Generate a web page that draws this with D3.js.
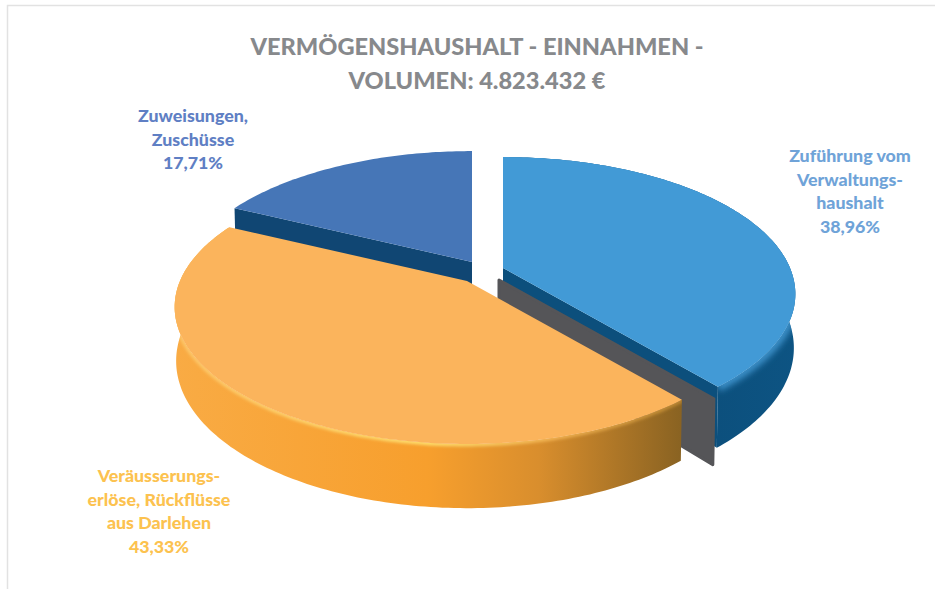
<!DOCTYPE html>
<html>
<head>
<meta charset="utf-8">
<script src="https://cdn.jsdelivr.net/npm/d3@7"></script>
<style>
    html, body { margin: 0; padding: 0; background: #fff; }
    svg { display: block; }
    text { font-family: Lato, "Noto Sans", sans-serif; font-weight: 900; text-anchor: middle; }
</style>
</head>
<body>
<svg id="svg"></svg>
<script>
// Data

const categories = ["Zuführung vom Verwaltungshaushalt", "Veräusserungserlöse, Rückflüsse aus Darlehen", "Zuweisungen, Zuschüsse"]
const values = [38.96, 43.33, 17.71]
const labelLines = [
    ["Zuführung vom", "Verwaltungs-", "haushalt"],
    ["Veräusserungs-", "erlöse, Rückflüsse", "aus Darlehen"],
    ["Zuweisungen,", "Zuschüsse"],
]
const titleLines = ["VERMÖGENSHAUSHALT - EINNAHMEN -", "VOLUMEN: 4.823.432 €"]


// Layout

const width = 935
const height = 589
const rx = 287        // radius across
const ry = 132        // radius in depth
const tilt = 0.19     // perspective strength
const depth = 52      // wall height
const bottomScale = 0.995

const origins = [[503, 268], [467, 281], [472, 262]]
const topColors = ["#429ad6", "#fbb45c", "#4676b7"]
const cutColors = ["#0c4f7c", "#c98a30", "#104673"]
const labelColors = ["#6fa3d8", "#fcc24f", "#5f7fc4"]
const labelX = [850, 159, 193]
const labelY = [162, 482, 122]
const lineHeight = 23.6

const svg = d3.select("#svg")
    .attr("width", width)
    .attr("height", height)

const defs = svg.append("defs")
defs.append("filter").attr("id", "soft")
    .append("feGaussianBlur").attr("stdDeviation", 1.6)
defs.append("filter").attr("id", "softer")
    .append("feGaussianBlur").attr("stdDeviation", 3)

const addGradient = (id, x1, x2, stops) => {
    const g = defs.append("linearGradient")
        .attr("id", id)
        .attr("gradientUnits", "userSpaceOnUse")
        .attr("x1", x1).attr("x2", x2).attr("y1", 0).attr("y2", 0)
    stops.forEach(s => g.append("stop").attr("offset", s[0]).attr("stop-color", s[1]))
}
addGradient("orangeWall", 175, 680, [[0, "#f9ab44"], [0.5, "#f79f2d"], [0.72, "#d98e2d"], [1, "#8a6322"]])
addGradient("orangeRim", 175, 680, [[0, "#fcc468"], [0.5, "#fddc6c"], [0.75, "#f0b050"], [1, "#b98530"]])
addGradient("blueWall", 700, 800, [[0, "#0c4f7c"], [1, "#0d5483"]])


// Projection of a point on the pie onto the page

const project = (origin, angle, radius, level) => {
    const u = Math.sin(angle) * radius
    const v = Math.cos(angle) * radius
    const den = 1 + tilt * v
    const scale = level ? bottomScale : 1
    return [
        origin[0] + rx * u * scale / den,
        origin[1] + (-ry * v + level * depth) / den,
    ]
}

const line = d3.line()
const arcPoints = (origin, a0, a1, level) => {
    const n = Math.ceil(Math.abs(a1 - a0) * 60)
    return d3.range(n + 1).map(i => project(origin, a0 + (a1 - a0) * i / n, 1, level))
}

const slices = d3.pie().sort(null)(values)
    .map((d, i) => ({ ...d, i, origin: origins[i] }))

const wall = s => line([
    ...arcPoints(s.origin, s.startAngle, s.endAngle, 0),
    ...arcPoints(s.origin, s.endAngle, s.startAngle, 1),
]) + "Z"

const cut = (s, angle) => line([
    project(s.origin, 0, 0, 0),
    project(s.origin, angle, 1, 0),
    project(s.origin, angle, 1, 1),
    project(s.origin, 0, 0, 1),
]) + "Z"

const face = s => line([
    s.origin,
    ...arcPoints(s.origin, s.startAngle, s.endAngle, 0),
]) + "Z"

const [blue, orange, steel] = slices

// the rim glow stays on the wall, never outside the pie
defs.append("clipPath").attr("id", "blueClip")
    .append("path").attr("d", wall(blue))
defs.append("clipPath").attr("id", "orangeClip")
    .append("path").attr("d", wall(orange))


// Frame

svg.append("path")
    .attr("d", `M7.5,589V5.5H${width}`)
    .attr("fill", "none")
    .attr("stroke", "#e2e2e2")
    .attr("stroke-width", 1.5)


// Rear slice

svg.append("path").attr("d", cut(steel, steel.startAngle)).attr("fill", cutColors[2])
svg.append("path").attr("d", face(steel)).attr("fill", topColors[2])


// Right slice

svg.append("path").attr("d", wall(blue)).attr("fill", "url(#blueWall)")
svg.append("path").attr("d", cut(blue, blue.endAngle)).attr("fill", cutColors[0])
svg.append("g").attr("clip-path", "url(#blueClip)")
    .append("path")
    .attr("d", line(arcPoints(blue.origin, blue.startAngle, blue.endAngle, 0)))
    .attr("fill", "none")
    .attr("stroke", "#3d92cb")
    .attr("stroke-width", 9)
    .attr("filter", "url(#softer)")
svg.append("path").attr("d", face(blue)).attr("fill", topColors[0])


// Grey face behind the front slice

const greyOrigin = [499, 280]
svg.append("path")
    .attr("d", line([
        project(greyOrigin, 0, 0, 0),
        project(greyOrigin, orange.startAngle, 1, 0),
        project(greyOrigin, orange.startAngle, 1, 1.08),
        project(greyOrigin, 0, 0, 1.08),
    ]) + "Z")
    .attr("fill", "#555558")
    .attr("stroke", "#555558")
    .attr("stroke-width", 3)
    .attr("stroke-linejoin", "round")


// Front slice

svg.append("path").attr("d", wall(orange)).attr("fill", "url(#orangeWall)")
svg.append("g").attr("clip-path", "url(#orangeClip)")
    .append("path")
    .attr("d", line(arcPoints(orange.origin, orange.startAngle, orange.endAngle, 0)))
    .attr("fill", "none")
    .attr("stroke", "url(#orangeRim)")
    .attr("stroke-width", 5)
    .attr("filter", "url(#soft)")
svg.append("path").attr("d", face(orange)).attr("fill", topColors[1])


// Title and labels

svg.append("g").selectAll("text")
    .data(titleLines)
    .join("text")
    .attr("x", 477)
    .attr("y", (d, i) => 55 + i * 34)
    .attr("fill", "#87898c")
    .attr("font-size", 23.6)
    .text(d => d)

const formatPercent = v => v.toFixed(2).replace(".", ",") + "%"

slices.forEach(s => {
    const lines = [...labelLines[s.i], formatPercent(s.value)]
    svg.append("g")
        .attr("aria-label", categories[s.i])
        .selectAll("text")
        .data(lines)
        .join("text")
        .attr("x", labelX[s.i])
        .attr("y", (d, j) => labelY[s.i] + j * lineHeight)
        .attr("fill", labelColors[s.i])
        .attr("font-size", 17.8)
        .text(d => d)
})
</script>
</body>
</html>
